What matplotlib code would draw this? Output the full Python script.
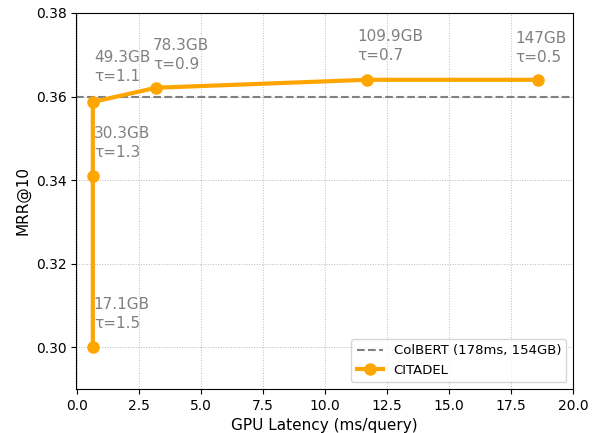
import matplotlib
matplotlib.use("Agg")
import matplotlib.pyplot as plt

# CITADEL latency / quality trade-off
latency = [0.62, 0.62, 0.62, 3.18, 11.67, 18.6]
mrr = [0.300, 0.341, 0.3587, 0.3621, 0.364, 0.364]
labels = ["17.1GB\nτ=1.5", "30.3GB\nτ=1.3", "49.3GB\nτ=1.1",
          "78.3GB\nτ=0.9", "109.9GB\nτ=0.7", "147GB\nτ=0.5"]
colbert_mrr = 0.360

# text offsets in pixels (dx, dy) from each point
offsets = [(1, 16), (1, 16), (1, 18), (-3, 16), (-9, 17), (-23, 15)]

fig, ax = plt.subplots(figsize=(6, 4.33), dpi=100)
ax.axhline(colbert_mrr, color="gray", linestyle="--", linewidth=1.5,
           label="ColBERT (178ms, 154GB)")
ax.plot(latency, mrr, color="orange", linewidth=3, marker="o", markersize=8,
        label="CITADEL")

for x, y, txt, (dx, dy) in zip(latency, mrr, labels, offsets):
    ax.annotate(txt, (x, y), xytext=(dx * 0.72, dy * 0.72),
                textcoords="offset points", ha="left", va="bottom",
                fontsize=11, color="gray", linespacing=1.3)

ax.set_xlim(-0.05, 20)
ax.set_ylim(0.29, 0.38)
ax.set_yticks([0.30, 0.32, 0.34, 0.36, 0.38])
ax.set_xlabel("GPU Latency (ms/query)", fontsize=11)
ax.set_ylabel("MRR@10", fontsize=11)
ax.grid(True, linestyle=":", linewidth=0.7, color="#bbbbbb")
ax.legend(loc="lower right", fontsize=9.5)

fig.subplots_adjust(left=0.127, right=0.955, top=0.970, bottom=0.102)
fig.savefig("out.png", dpi=100)
